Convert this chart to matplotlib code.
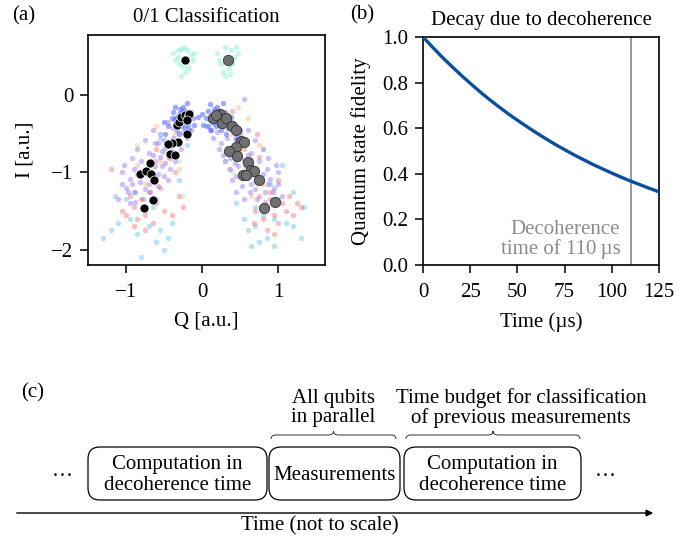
import matplotlib
matplotlib.use("Agg")
import matplotlib.pyplot as plt
from matplotlib.patches import FancyBboxPatch, PathPatch
from matplotlib.path import Path

plt.rcParams['font.family'] = ['Liberation Serif', 'DejaVu Serif']
plt.rcParams['mathtext.fontset'] = 'stix'
plt.rcParams['font.size'] = 15
plt.rcParams['axes.linewidth'] = 1.2
plt.rcParams['xtick.major.width'] = 1.1
plt.rcParams['ytick.major.width'] = 1.1
plt.rcParams['xtick.major.size'] = 5.5
plt.rcParams['ytick.major.size'] = 5.5
plt.rcParams['xtick.major.pad'] = 7.5
plt.rcParams['ytick.major.pad'] = 5

# ---------------- data: panel (a) ----------------
teal_pts = [(-0.38, 0.55), (-0.32, 0.50), (-0.28, 0.60), (-0.25, 0.38), (-0.20, 0.58), (-0.15, 0.52),
            (-0.12, 0.45), (-0.30, 0.40), (-0.22, 0.30), (-0.18, 0.35), (-0.35, 0.45), (-0.27, 0.25),
            (-0.10, 0.55), (-0.24, 0.62), (-0.19, 0.42), (-0.31, 0.58),
            (0.20, 0.55), (0.25, 0.40), (0.30, 0.62), (0.38, 0.58), (0.42, 0.50), (0.45, 0.62),
            (0.28, 0.30), (0.35, 0.35), (0.33, 0.48), (0.40, 0.40), (0.22, 0.45), (0.48, 0.55),
            (0.31, 0.25), (0.37, 0.28)]
blue_pts = [(-0.30, -0.25), (-0.22, -0.20), (-0.35, -0.32), (-0.18, -0.35), (-0.28, -0.40), (-0.40, -0.30),
            (-0.15, -0.22), (-0.25, -0.15), (-0.33, -0.45), (-0.20, -0.28), (-0.45, -0.40), (-0.12, -0.30),
            (-0.26, -0.33), (-0.38, -0.22), (-0.30, -0.50), (-0.10, -0.38), (-0.22, -0.42), (-0.48, -0.50),
            (-0.35, -0.15), (-0.17, -0.45), (-0.05, -0.28), (-0.42, -0.60), (-0.28, -0.28), (-0.20, -0.10),
            (-0.50, -0.35), (-0.27, -0.30), (-0.24, -0.26), (-0.31, -0.36), (-0.21, -0.32), (-0.33, -0.28),
            (-0.26, -0.22), (-0.19, -0.38), (-0.36, -0.40), (-0.29, -0.18), (-0.23, -0.36),
            (0.15, -0.25), (0.22, -0.20), (0.10, -0.32), (0.28, -0.35), (0.18, -0.40), (0.05, -0.30),
            (0.30, -0.22), (0.20, -0.15), (0.12, -0.45), (0.25, -0.28), (0.35, -0.42), (0.08, -0.20),
            (0.19, -0.33), (0.02, -0.38), (0.32, -0.50), (0.40, -0.38), (0.25, -0.45), (0.45, -0.55),
            (0.10, -0.12), (0.28, -0.10), (0.00, -0.25), (0.38, -0.28), (0.16, -0.28), (0.22, -0.38),
            (0.50, -0.45), (0.18, -0.30), (0.21, -0.26), (0.14, -0.36), (0.25, -0.32), (0.12, -0.28),
            (0.19, -0.22), (0.27, -0.38), (0.08, -0.40), (0.16, -0.18), (0.23, -0.36)]
purple_pts = [(-0.30, -0.40), (-0.45, -0.35), (-0.20, -0.55), (-0.38, -0.55), (-0.55, -0.50), (-0.28, -0.70),
              (-0.48, -0.68), (-0.62, -0.62), (-0.35, -0.85), (-0.55, -0.80), (-0.70, -0.75), (-0.42, -0.95),
              (-0.62, -0.92), (-0.80, -0.85), (-0.50, -1.05), (-0.72, -1.02), (-0.90, -0.95), (-0.58, -1.18),
              (-0.82, -1.12), (-0.95, -1.08), (-0.68, -1.25), (-0.88, -1.25), (-1.00, -1.20), (-0.75, -0.58),
              (-0.60, -1.35), (-0.92, -0.82), (-0.40, -0.72), (-0.65, -0.45), (-1.05, -1.00), (-0.78, -1.35),
              (-0.52, -0.92), (-0.30, -0.62), (-0.85, -0.70), (-1.10, -1.35), (-0.45, -1.10), (-0.15, -0.45),
              (-0.70, -0.88), (-0.95, -1.40), (-0.58, -0.62), (-1.02, -0.90),
              (-0.25, -0.48), (-0.50, -0.58), (-0.42, -0.82), (-0.65, -0.78), (-0.78, -0.98), (-0.58, -1.02),
              (-0.85, -1.02), (-0.70, -1.15), (-0.98, -1.25), (-0.52, -0.72), (-0.38, -0.42), (-0.75, -1.22),
              (-1.05, -1.15), (-0.62, -0.85), (-0.88, -1.38), (-0.48, -0.88), (-0.33, -0.78), (-0.92, -1.15),
              (0.25, -0.40), (0.40, -0.35), (0.15, -0.55), (0.33, -0.55), (0.50, -0.50), (0.23, -0.70),
              (0.43, -0.68), (0.57, -0.62), (0.30, -0.85), (0.50, -0.80), (0.65, -0.75), (0.37, -0.95),
              (0.57, -0.92), (0.75, -0.85), (0.45, -1.05), (0.67, -1.02), (0.85, -0.95), (0.53, -1.18),
              (0.77, -1.12), (0.90, -1.08), (0.63, -1.25), (0.83, -1.25), (0.95, -1.20), (0.70, -0.58),
              (0.55, -1.35), (0.87, -0.82), (0.35, -0.72), (0.60, -0.45), (1.00, -1.00), (0.73, -1.35),
              (0.47, -0.92), (0.25, -0.62), (0.80, -0.70), (1.05, -1.30), (0.40, -1.10), (0.10, -0.45),
              (0.65, -0.88), (0.45, -1.25), (0.53, -0.62), (0.97, -0.90), (0.55, -0.05),
              (0.20, -0.48), (0.45, -0.58), (0.37, -0.82), (0.60, -0.78), (0.73, -0.98), (0.53, -1.02),
              (0.80, -1.02), (0.65, -1.15), (0.93, -1.25), (0.47, -0.72), (0.33, -0.42), (0.70, -1.22),
              (1.00, -1.15), (0.57, -0.85), (0.83, -1.38), (0.43, -0.88), (0.28, -0.78), (0.87, -1.15)]
red_pts = [(-0.90, -1.45), (-0.75, -1.55), (-0.60, -1.40), (-0.85, -1.60), (-0.50, -1.50), (-0.95, -1.30),
           (-0.70, -1.25), (-0.40, -1.55), (-0.65, -1.65), (-1.05, -1.50), (-0.80, -1.35), (-0.55, -1.20),
           (-1.20, -0.95), (-0.30, -1.30), (-0.90, -1.70), (-0.45, -0.80), (-0.60, -0.70), (-0.35, -1.00),
           (-1.00, -1.55), (-0.75, -1.75), (-0.25, -1.45),
           (0.85, -1.45), (0.95, -1.55), (1.05, -1.40), (0.80, -1.60), (1.10, -1.50), (0.75, -1.30),
           (0.90, -1.25), (1.20, -1.55), (1.00, -1.65), (0.70, -1.50), (0.85, -1.75), (1.15, -1.30),
           (0.60, -0.95), (1.25, -1.40), (0.95, -1.80), (0.55, -0.70), (0.75, -0.80), (1.00, -1.10),
           (0.68, -1.65), (0.40, -0.20), (0.72, -0.50), (1.30, -1.45), (0.90, -1.35)]
lightblue_pts = [(-1.30, -1.85), (-1.20, -1.75), (-1.10, -1.65), (-0.95, -1.60), (-0.85, -1.80), (-0.70, -1.70),
                 (-0.55, -1.75), (-0.45, -1.85), (-0.60, -1.90), (-0.80, -2.10), (-1.00, -1.35), (-0.90, -1.25),
                 (-0.65, -1.45), (-0.75, -1.50), (-0.40, -1.65), (-0.50, -2.00), (-1.15, -1.30), (-0.35, -0.30),
                 (-0.55, -0.55), (-0.20, -0.65), (-0.80, -1.05), (-0.30, -1.10),
                 (1.30, -1.85), (1.20, -1.70), (1.10, -1.65), (0.95, -1.60), (0.85, -1.85), (0.70, -1.70),
                 (0.60, -1.75), (0.65, -1.95), (0.75, -1.90), (1.35, -1.45), (1.00, -1.35), (0.90, -1.15),
                 (0.70, -1.45), (0.80, -1.55), (0.55, -1.60), (1.20, -1.25), (1.05, -0.90), (0.05, -0.40),
                 (0.30, -0.30), (0.55, -0.85), (0.95, -1.95), (0.45, -1.40)]
orange_pts = [(-0.55, -0.85), (-0.30, -0.95), (-0.65, -1.05), (-0.45, -0.65), (-0.75, -1.15), (-0.35, -0.50),
              (-0.60, -0.40), (0.55, -0.85), (0.35, -0.95), (0.70, -1.05), (0.45, -0.65), (0.80, -1.15),
              (0.40, -0.50), (0.60, -0.30), (0.65, -1.30), (-0.85, -0.90), (0.48, -0.15), (0.75, -0.65)]
green_pts = [(-0.50, -0.75), (-0.65, -0.95), (-0.30, -0.85), (-0.25, -1.30), (0.50, -0.75), (0.65, -0.95),
             (0.30, -0.85), (0.80, -0.70), (-0.85, -0.65), (0.40, -1.00)]

class0_q = [-0.22, -0.81, -0.74, -0.68, -0.67, -0.63, -0.64, -0.76, -0.20, -0.31, -0.39, -0.45, -0.42,
            -0.36, -0.33, -0.30, -0.27, -0.22, -0.18, -0.17, -0.20]
class0_i = [0.45, -1.02, -0.98, -0.88, -1.02, -1.10, -1.36, -1.46, -0.50, -0.60, -0.62, -0.63, -0.76,
            -0.78, -0.39, -0.35, -0.28, -0.26, -0.28, -0.24, -0.32]
class1_q = [0.34, 0.15, 0.24, 0.19, 0.27, 0.32, 0.39, 0.45, 0.52, 0.56, 0.45, 0.36, 0.46, 0.61, 0.64,
            0.69, 0.54, 0.58, 0.75, 0.82, 0.96]
class1_i = [0.45, -0.29, -0.24, -0.26, -0.36, -0.29, -0.40, -0.45, -0.59, -0.60, -0.67, -0.72, -0.79,
            -0.87, -0.97, -0.98, -1.04, -1.04, -1.10, -1.46, -1.38]

# ---------------- data: panel (b) ----------------
time_us = [0, 5, 10, 15, 20, 25, 30, 35, 40, 45, 50, 55, 60, 65, 70, 75, 80, 85, 90, 95, 100, 105, 110,
           115, 120, 125]
fidelity = [1.000, 0.956, 0.913, 0.873, 0.834, 0.797, 0.761, 0.727, 0.695, 0.664, 0.635, 0.607, 0.580,
            0.554, 0.529, 0.506, 0.483, 0.462, 0.441, 0.422, 0.403, 0.385, 0.368, 0.352, 0.336, 0.321]
decoherence_time = 110

# ---------------- data: panel (c) ----------------
box_labels = ["Computation in\ndecoherence time", "Measurements", "Computation in\ndecoherence time"]
brace_labels = ["All qubits\nin parallel", "Time budget for classification\nof previous measurements"]

fig = plt.figure(figsize=(6.9, 5.38), dpi=100)

# ---- panel (a)
ax1 = fig.add_axes([88 / 690, 1 - 265 / 538, 237 / 690, 230 / 538])
bg = [(teal_pts, '#3ee8b8', 0.30), (lightblue_pts, '#45b5ee', 0.38), (red_pts, '#f04848', 0.35),
      (orange_pts, '#ffa060', 0.35), (green_pts, '#90e890', 0.35), (purple_pts, '#8a5ef0', 0.40),
      (blue_pts, '#2a3cff', 0.45)]
for pts, col, a in bg:
    ax1.scatter([p[0] for p in pts], [p[1] for p in pts], s=15, color=col, alpha=a, linewidths=0,
                zorder=1)
ax1.scatter(class0_q, class0_i, s=42, color='black', edgecolors='white', linewidths=0.5, zorder=3)
ax1.scatter(class1_q, class1_i, s=55, color='#707070', edgecolors='#303030', linewidths=0.6, zorder=3)
ax1.set_xlim(-1.5, 1.62)
ax1.set_ylim(-2.2, 0.78)
ax1.set_xticks([-1, 0, 1])
ax1.set_yticks([-2, -1, 0])
ax1.set_xlabel('Q [a.u.]', labelpad=7)
ax1.set_ylabel('I [a.u.]', labelpad=12)
ax1.set_title('0/1 Classification', fontsize=15, pad=9)
fig.text(24 / 690, 1 - 16 / 538, '(a)', fontsize=15, va='center', ha='center')

# ---- panel (b)
ax2 = fig.add_axes([423 / 690, 1 - 265 / 538, 236 / 690, 228 / 538])
ax2.plot(time_us, fidelity, color='#0a4f9e', lw=2.4, zorder=3)
ax2.axvline(decoherence_time, color='#999999', lw=1.4, zorder=2)
ax2.text(104.5, 0.025, 'Decoherence\ntime of 110\u2009\u00b5s', color='#8c8c8c', ha='right', va='bottom',
         fontsize=15, linespacing=1.0)
ax2.set_xlim(0, 125)
ax2.set_ylim(0, 1.0)
ax2.set_xticks([0, 25, 50, 75, 100, 125])
ax2.set_yticks([0.0, 0.2, 0.4, 0.6, 0.8, 1.0])
ax2.set_xlabel('Time (\u00b5s)', labelpad=7)
ax2.set_ylabel('Quantum state fidelity', labelpad=8)
ax2.set_title('Decay due to decoherence', fontsize=15, pad=9)
fig.text(362 / 690, 1 - 15 / 538, '(b)', fontsize=15, va='center', ha='center')

# ---- panel (c) : diagram in pixel coordinates
axc = fig.add_axes([0, 0, 1, 1], zorder=-1)
axc.set_xlim(0, 690)
axc.set_ylim(538, 0)
axc.axis('off')

box_x = [(87, 268), (268, 401), (403, 582)]
for (x0, x1), lab in zip(box_x, box_labels):
    axc.add_patch(FancyBboxPatch((x0 + 1, 447), x1 - x0 - 2, 53,
                                 boxstyle='round,pad=0,rounding_size=12',
                                 fc='white', ec='black', lw=0.9))
    axc.text((x0 + x1) / 2, 475, lab, ha='center', va='center', fontsize=15, linespacing=1.08)

axc.text(62, 471, '\u2026', ha='center', va='center', fontsize=15)
axc.text(605, 471, '\u2026', ha='center', va='center', fontsize=15)


def brace(x0, x1, ytip, ybase):
    xm = (x0 + x1) / 2
    ymid = (ytip + ybase) / 2
    r = 5
    verts = [(x0, ybase), (x0, ymid), (x0 + r, ymid),
             (xm - r, ymid), (xm, ymid), (xm, ytip),
             (xm, ymid), (xm + r, ymid),
             (x1 - r, ymid), (x1, ymid), (x1, ybase)]
    codes = [Path.MOVETO, Path.CURVE3, Path.CURVE3,
             Path.LINETO, Path.CURVE3, Path.CURVE3,
             Path.CURVE3, Path.CURVE3,
             Path.LINETO, Path.CURVE3, Path.CURVE3]
    axc.add_patch(PathPatch(Path(verts, codes), fc='none', ec='#333333', lw=0.7))


brace_x = [(271, 396), (406, 580)]
brace_text_x = [333, 521]
for (x0, x1), tx, lab in zip(brace_x, brace_text_x, brace_labels):
    brace(x0, x1, 431, 439)
    axc.text(tx, 408, lab, ha='center', va='center', fontsize=15, linespacing=1.05)

axc.text(33, 393, '(c)', ha='center', va='center', fontsize=15)
axc.annotate('', xy=(656, 513), xytext=(14, 513),
             arrowprops=dict(arrowstyle='-|>', color='black', lw=1.0, mutation_scale=10))
axc.text(320, 526, 'Time (not to scale)', ha='center', va='center', fontsize=15)

fig.savefig('out.png', dpi=100)
